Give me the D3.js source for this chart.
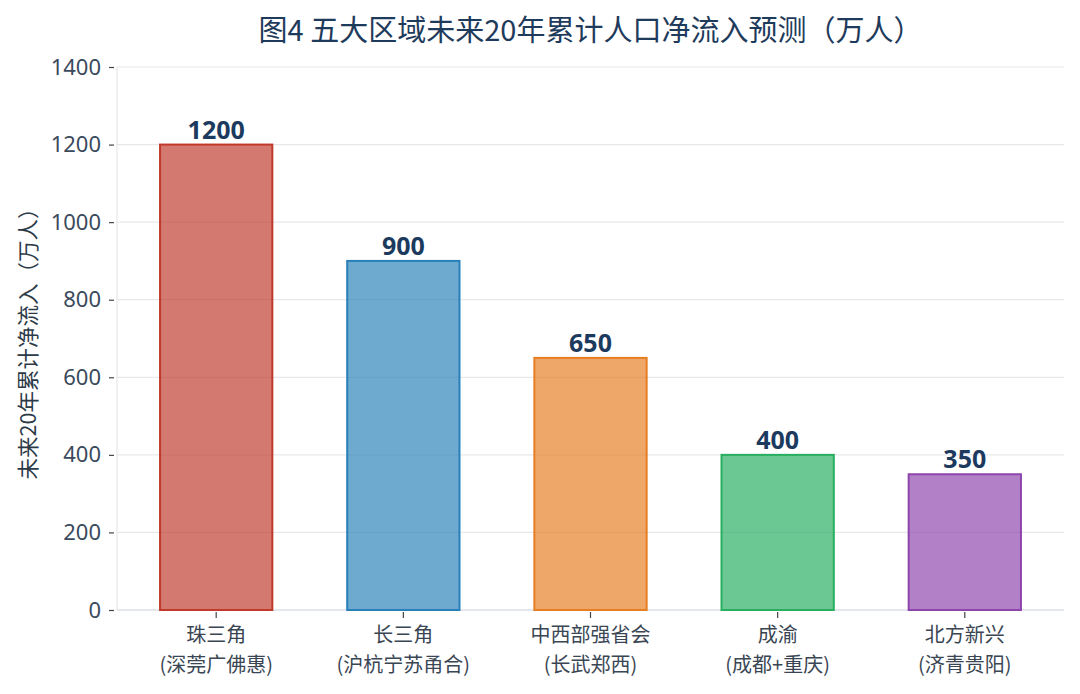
<!DOCTYPE html>
<html>
<head>
<meta charset="utf-8">
<script src="https://cdn.jsdelivr.net/npm/d3@7"></script>
<style>
  body { margin: 0; background: #fff; }
  text { font-family: "Noto Sans CJK SC", "Noto Sans", sans-serif; }
</style>
</head>
<body>
<div id="chart"></div>
<script>
// data
var regions = ["珠三角", "长三角", "中西部强省会", "成渝", "北方新兴"];
var subLabels = ["(深莞广佛惠)", "(沪杭宁苏甬合)", "(长武郑西)", "(成都+重庆)", "(济青贵阳)"];
var inflow = [1200, 900, 650, 400, 350];
var yTicks = [0, 200, 400, 600, 800, 1000, 1200, 1400];
var edgeColors = ["#c0392b", "#2980b9", "#e67e22", "#27ae60", "#8e44ad"];

var width = 1080, height = 694;
var margin = {top: 67, right: 16, bottom: 84, left: 117};

var svg = d3.select("#chart")
  .append("svg")
    .attr("width", width)
    .attr("height", height);

// x: bars 0.6 wide, 5% margins like matplotlib
var x = d3.scaleLinear()
  .domain([-0.3 - 0.23, 4.3 + 0.23])
  .range([margin.left, width - margin.right]);

var y = d3.scaleLinear()
  .domain([0, 1400])
  .range([height - margin.bottom, margin.top]);

// grid
svg.append("g")
  .selectAll("line")
  .data(yTicks)
  .enter().append("line")
    .attr("x1", margin.left)
    .attr("x2", width - margin.right)
    .attr("y1", function(d) { return y(d); })
    .attr("y2", function(d) { return y(d); })
    .attr("stroke", "#e6e8eb")
    .attr("stroke-width", 1.2);

// spines (light)
svg.append("line")
  .attr("x1", margin.left).attr("x2", margin.left)
  .attr("y1", margin.top).attr("y2", y(0))
  .attr("stroke", "#e3e6ea").attr("stroke-width", 1.2);
svg.append("line")
  .attr("x1", margin.left).attr("x2", width - margin.right)
  .attr("y1", y(0)).attr("y2", y(0))
  .attr("stroke", "#dfe3e8").attr("stroke-width", 1.5);

// y axis
var yAxis = svg.append("g")
  .attr("transform", "translate(" + (margin.left - 3) + ",0)")
  .call(d3.axisLeft(y).tickValues(yTicks).tickSize(5).tickPadding(8).tickFormat(d3.format("d")));
yAxis.select(".domain").remove();
yAxis.selectAll(".tick line").attr("stroke", "#444").attr("stroke-width", 1.2);
yAxis.selectAll(".tick text")
  .attr("fill", "#3a4a5c")
  .style("font-size", "22px")
  .style("font-family", "'Noto Sans', sans-serif");

// x ticks
var idx = d3.range(regions.length);
svg.append("g")
  .selectAll("line")
  .data(idx)
  .enter().append("line")
    .attr("x1", function(i) { return x(i); })
    .attr("x2", function(i) { return x(i); })
    .attr("y1", y(0) + 2)
    .attr("y2", y(0) + 8)
    .attr("stroke", "#444")
    .attr("stroke-width", 1.2);

// bars
var bw = x(0.6) - x(0);
svg.append("g")
  .selectAll("rect")
  .data(idx)
  .enter().append("rect")
    .attr("x", function(i) { return x(i) - bw / 2; })
    .attr("y", function(i) { return y(inflow[i]); })
    .attr("width", bw)
    .attr("height", function(i) { return y(0) - y(inflow[i]); })
    .attr("fill", function(i) { return edgeColors[i]; })
    .attr("fill-opacity", 0.68)
    .attr("stroke", function(i) { return edgeColors[i]; })
    .attr("stroke-width", 2);

// value labels
svg.append("g")
  .selectAll("text")
  .data(idx)
  .enter().append("text")
    .attr("x", function(i) { return x(i); })
    .attr("y", function(i) { return y(inflow[i]) - 6; })
    .attr("text-anchor", "middle")
    .attr("fill", "#1c3a5e")
    .style("font-size", "25px")
    .style("font-weight", "bold")
    .style("font-family", "'Noto Sans', sans-serif")
    .text(function(i) { return inflow[i]; });

// x labels, two lines each
var xg = svg.append("g")
  .attr("fill", "#3a4654")
  .style("font-size", "20px");
xg.selectAll("text.main")
  .data(idx)
  .enter().append("text")
    .attr("class", "main")
    .attr("x", function(i) { return x(i); })
    .attr("y", 642)
    .attr("text-anchor", "middle")
    .text(function(i) { return regions[i]; });
xg.selectAll("text.sub")
  .data(idx)
  .enter().append("text")
    .attr("class", "sub")
    .attr("x", function(i) { return x(i); })
    .attr("y", 672)
    .attr("text-anchor", "middle")
    .text(function(i) { return subLabels[i]; });

// y label
svg.append("text")
  .attr("transform", "translate(36," + ((margin.top + y(0)) / 2) + ") rotate(-90)")
  .attr("text-anchor", "middle")
  .attr("fill", "#2c3a48")
  .style("font-size", "21.5px")
  .text("未来20年累计净流入（万人）");

// title
svg.append("text")
  .attr("x", (margin.left + width - margin.right) / 2)
  .attr("y", 41)
  .attr("text-anchor", "middle")
  .attr("fill", "#1f3b5c")
  .style("font-size", "29px")
  .text("图4 五大区域未来20年累计人口净流入预测（万人）");
</script>
</body>
</html>
